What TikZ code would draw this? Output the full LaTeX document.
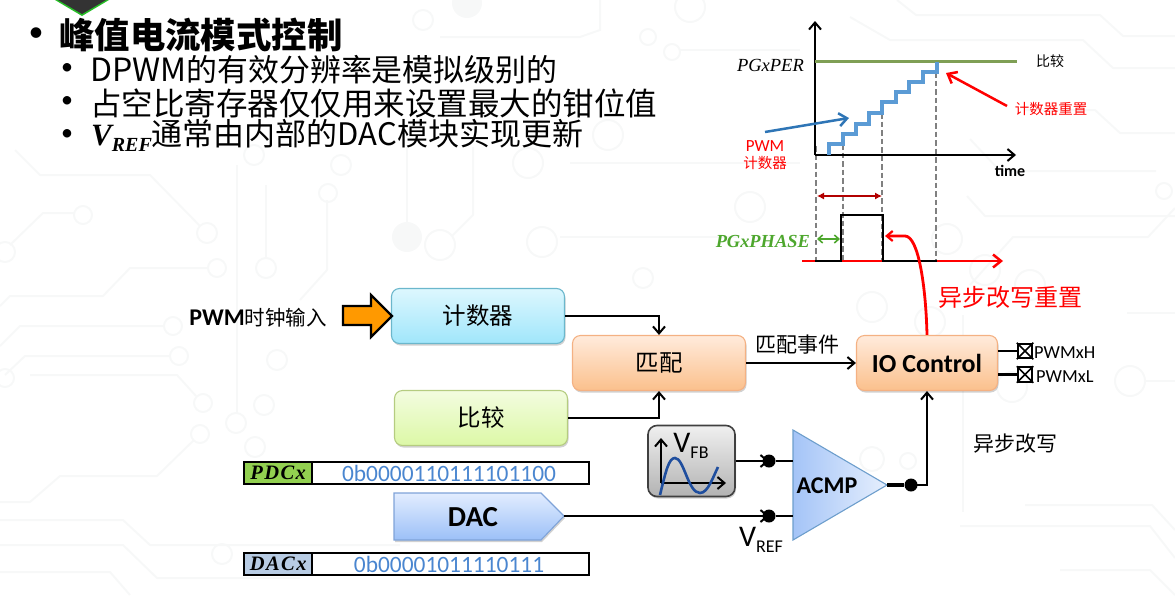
\documentclass[tikz,border=0pt]{standalone}
\usepackage{fontspec}
\setmainfont{Carlito}
\newfontfamily\cjk{Noto Sans CJK SC}
\newfontfamily\regserif[LetterSpace=7]{Liberation Serif}
\newfontfamily\plainserif{Liberation Serif}
\usetikzlibrary{arrows.meta,shadows,shapes.geometric}
\definecolor{bgl}{HTML}{F7F8F8}
\definecolor{steel}{HTML}{5B9BD5}
\definecolor{arrowblue}{HTML}{2E75B6}
\definecolor{numblue}{HTML}{4A86D0}
\definecolor{pgreen}{HTML}{4EA72E}
\definecolor{cmpgreen}{HTML}{7F9F55}
\definecolor{fatorange}{HTML}{FF9900}
\definecolor{cnttop}{HTML}{DDF7FE}\definecolor{cntbot}{HTML}{A0E6FB}\definecolor{cntdraw}{HTML}{6BB7CC}
\definecolor{mattop}{HTML}{FFEBDC}\definecolor{matbot}{HTML}{FBC08C}\definecolor{matdraw}{HTML}{F4B183}
\definecolor{cmptop}{HTML}{F3FCE0}\definecolor{cmpbot}{HTML}{DCF8A6}\definecolor{cmpdraw}{HTML}{B5CC80}
\definecolor{dactop}{HTML}{E2EDFF}\definecolor{dacbot}{HTML}{9CC0F7}\definecolor{dacdraw}{HTML}{7FA3D8}
\definecolor{acleft}{HTML}{A4C4F7}\definecolor{acright}{HTML}{E6EFFD}
\definecolor{pdcfill}{HTML}{92D050}\definecolor{dacfill}{HTML}{B8CCE4}
\definecolor{sinblue}{HTML}{1F4E9E}
\newcommand{\fs}[1]{\fontsize{#1}{#1}\selectfont}
\tikzset{
  softshadow/.style={general shadow={shadow xshift=1pt,shadow yshift=-2pt,fill=black,fill opacity=0.18}},
  blockbox/.style={draw,rounded corners=8pt,line width=1.1pt,minimum height=55pt,softshadow,inner sep=0pt,font=\cjk\fs{23.5}},
  wire/.style={draw=black,line width=2.2pt},
  barb/.style={-{Straight Barb[length=7pt,width=12pt,line width=2pt]}},
  wirearrow/.style={wire,barb},
  jdot/.style={circle,fill=black,minimum size=13pt,inner sep=0pt},
  regbox/.style={draw=black,line width=2.4pt,fill=white,minimum height=22pt,inner sep=0pt},
  reglabel/.style={draw=black,line width=2.4pt,minimum height=22pt,inner sep=0pt,font=\regserif\bfseries\itshape\fs{20.5}},
  regval/.style={text=numblue,font=\fs{23.4}},
  dashv/.style={draw=black!50,line width=2.6pt,dash pattern=on 5.5pt off 3pt},
  pad/.style={draw=black,line width=2pt,minimum size=14.5pt,inner sep=0pt,fill=white},
  plabel/.style={anchor=west,inner sep=0pt,font=\fs{18.4}},
  bgline/.style={draw=bgl,line width=2pt},
}
\begin{document}
\begin{tikzpicture}[x=1pt,y=-1pt]
\useasboundingbox (0,0) rectangle (1175,595);
% faint background traces
\begin{scope}[bgline]
\draw (15,150) -- (40,175) -- (150,175) -- (200,226);
\draw (74,213) -- (43,213) -- (10,245);
\draw (208,268) -- (130,268) -- (103,296) -- (10,296) -- (0,306);
\draw (164,326) -- (20,326) -- (0,346);
\draw (170,356) -- (25,356) -- (5,375);
\draw (30,375) -- (177,375) -- (196,396);
\draw (194,440) -- (157,476) -- (60,476) -- (30,502) -- (0,502);
\draw (0,520) -- (123,520) -- (150,545) -- (400,545);
\draw (0,545) -- (123,545) -- (157,578) -- (300,578);
\draw (0,572) -- (110,572) -- (130,595);
\draw (237,165) -- (237,413);
\draw (266,185) -- (266,258);
\draw (327,200) -- (327,270) -- (300,300);
\draw (897,0) -- (916,15) -- (1100,15) -- (1123,36) -- (1175,36);
\draw (850,17) -- (890,40) -- (1083,40) -- (1113,68) -- (1175,68);
\draw (1025,110) -- (1095,110) -- (1120,133) -- (1175,133);
\draw (970,139) -- (1000,171) -- (1156,171);
\draw (967,196) -- (985,216) -- (1175,216);
\draw (970,285) -- (1013,237) -- (1148,237) -- (1175,208);
\draw (1127,313) -- (1175,313);
\draw (1145,381) -- (1175,381);
\draw (1025,505) -- (1152,505) -- (1175,530);
\draw (960,526) -- (1150,526) -- (1175,558);
\draw (1060,570) -- (1150,570) -- (1175,595);
\draw (963,315) -- (963,512);
\draw (407,147) -- (407,222);
\draw (473,147) -- (473,215) -- (452,236);
\draw (560,237) -- (740,237);
\draw (570,163) -- (800,163);
\draw (600,0) -- (600,30) -- (580,37) -- (440,37);
\draw (680,50) -- (800,50);
\foreach \x/\y/\r in {83/215/9,5/252/10,207/233/10,217/268/9,173/326/9,5/378/9,179/356/9,203/403/9,200/434/9,236/423/10,266/268/10,328/193/9,222/554/10,255/447/10,264/405/10,277/360/10,341/165/10,254/155/10,1164/191/8,1130/381/15,872/307/15,947/239/15,985/270/15,1030/285/15,930/322/15,1012/387/15,872/459/12,908/461/8,423/20/10,690/7/15,648/37/8,672/52/8,608/135/15,528/163/15,542/242/15,440/245/15,750/207/15,643/278/10}
  \draw (\x,\y) circle (\r);
\fill[bgl] (467,3) circle (15);
\fill[bgl] (407,237) circle (15);
\end{scope}
% top chevron
\fill[green!70!black!85] (55,0) -- (82,16) -- (109,0) -- cycle;
\fill[black!80] (58,0) -- (82,14) -- (106,0) -- cycle;
% heading
\node[anchor=center,inner sep=0pt] (bul0) at (36,35) {\fs{30}•};
\node[anchor=west,inner sep=0pt,font=\cjk\bfseries\fs{35.4}] (title) at (59,35) {峰值电流模式控制};
\node[inner sep=0pt] (bul1) at (67,69) {\fs{24}•};
\node[anchor=west,inner sep=0pt,font=\cjk\fs{31}] (l1) at (90,70) {\fs{32}DPWM\fs{30.9}的有效分辨率是模拟级别的};
\node[inner sep=0pt] (bul2) at (67,102) {\fs{24}•};
\node[anchor=west,inner sep=0pt,font=\cjk\fs{31.5}] (l2) at (90,103) {占空比寄存器仅仅用来设置最大的钳位值};
\node[inner sep=0pt] (bul3) at (67,135) {\fs{24}•};
\node[anchor=west,inner sep=0pt,font=\cjk\fs{31}] (l3) at (91,135) {{\plainserif\bfseries\itshape\fs{31}V\raisebox{-6pt}{\fs{20}REF}}通常由内部的DAC模块实现更新};
% timing chart
\node[anchor=east,inner sep=0pt,font=\plainserif\itshape\fs{18.5}] (per) at (804,65) {PGxPER};
\node[anchor=west,inner sep=0pt,font=\cjk\fs{14}] (cmpt) at (1036,61) {比较};
\coordinate (ybot) at (815,155);
\coordinate (ytop) at (815,21);
\coordinate (xend) at (1016,155);
\node[inner sep=0pt,font=\bfseries\fs{16}] (time) at (1010,171) {time};
\draw[dashv] (816,146) -- (816,261);
\draw[dashv] (843,144) -- (843,261);
\draw[dashv] (882,113) -- (882,261);
\draw[dashv] (936,72) -- (936,261);
\draw[wirearrow,line width=2.8pt] (ybot) -- (ytop);
\draw[wirearrow,line width=2.8pt] (ybot) -- (xend);
\draw[draw=cmpgreen,line width=3pt] (815,61.5) -- (1017,61.5);
\draw[draw=steel,line width=3.2pt] (829,155) |- (843,144) |- (856,134) |- (869,124) |- (882,113) |- (896,102) |- (909,92) |- (923,82) |- (937,72) -- (937,62);
\node[text=red,inner sep=0pt,font=\fs{17}] (pwmc) at (765,146) {PWM};
\node[text=red,inner sep=0pt,font=\cjk\fs{14.5}] (pwmc2) at (765,163) {计数器};
\draw[draw=arrowblue,line width=2.5pt,-{Straight Barb[length=8pt,width=13pt,line width=2.5pt]}] (765,132) -- (849,118);
\node[text=red,inner sep=0pt,font=\cjk\fs{14.5}] (rst) at (1051,109) {计数器重置};
\draw[draw=red,line width=2.5pt,-{Straight Barb[length=8pt,width=13pt,line width=2.5pt]}] (1007,106) -- (946,73);
\coordinate (ba) at (817,196); \coordinate (bb) at (882,196);
\draw[draw=red!70!black,line width=1.1pt,{Latex[length=7pt,width=7pt]}-{Latex[length=7pt,width=7pt]}] (ba) -- (bb);
\draw[draw=pgreen,line width=1.8pt,{Straight Barb[length=4.5pt,width=8pt,line width=1.6pt]}-{Straight Barb[length=4.5pt,width=8pt,line width=1.6pt]}] (817,239) -- (840,239);
\node[anchor=east,inner sep=0pt,text=pgreen,font=\plainserif\bfseries\itshape\fs{18.4}] (phase) at (810,241) {PGxPHASE};
\draw[draw=red,line width=2.8pt,-{Straight Barb[length=8pt,width=13pt,line width=2.5pt]}] (802,261) -- (1003,261);
\draw[draw=black,line width=2.8pt] (815,261) -- (841,261) -- (841,215) -- (883,215) -- (883,261) -- (937,261);
\node[text=red,inner sep=0pt,font=\cjk\fs{24}] (asr) at (1010,297) {异步改写重置};
% blocks
\node[blockbox,draw=cntdraw,top color=cnttop,bottom color=cntbot,minimum width=173pt] (cnt) at (478,316) {计数器};
\node[blockbox,draw=matdraw,top color=mattop,bottom color=matbot,minimum width=173pt] (mat) at (659,363) {匹配};
\node[blockbox,draw=cmpdraw,top color=cmptop,bottom color=cmpbot,minimum width=173pt] (cmp) at (481,418) {比较};
\node[blockbox,draw=matdraw,top color=mattop,bottom color=matbot,minimum width=141pt,font=\bfseries\fs{26}] (io) at (927,363) {IO Control};
\node[anchor=east,inner sep=0pt,font=\bfseries\fs{24}] (clk) at (327,318) {PWM{\cjk\mdseries\fs{20.5}时钟输入}};
\draw[fill=fatorange,line width=2.2pt] (343,306) -- (371,306) -- (371,295) -- (392,316) -- (371,337) -- (371,325) -- (343,325) -- cycle;
\node[inner sep=0pt,font=\cjk\fs{21}] (evt) at (797,345) {匹配事件};
\node[inner sep=0pt,font=\cjk\fs{21}] (asw) at (1015,444) {异步改写};
% connectors top
\draw[wirearrow] (cnt.east) -| (mat.north);
\draw[wirearrow] (cmp.east) -| (mat.south);
\draw[wirearrow] (mat.east) -- (io.west |- mat.east);
\node[pad] (ph) at (1025,351) {}; \draw[line width=1.5pt] (ph.north west) -- (ph.south east) (ph.north east) -- (ph.south west);
\node[pad] (pl) at (1025,374.5) {}; \draw[line width=1.5pt] (pl.north west) -- (pl.south east) (pl.north east) -- (pl.south west);
\draw[wire] (ph.west) -- (ph.west -| io.east);
\draw[wire] (pl.west) -- (pl.west -| io.east);
\node[plabel] (phl) at (1034,353) {PWMxH};
\node[plabel] (pll) at (1036,377) {PWMxL};
\draw[draw=red,line width=2.8pt,-{Straight Barb[length=6pt,width=10pt,line width=2.2pt]}] (io.north) .. controls (926,290) and (919,236) .. (905,236) -- (885,236);
% registers
\node[regbox,anchor=west,minimum width=345pt] (pdcb) at (243,473) {};
\node[reglabel,anchor=west,minimum width=68pt,fill=pdcfill] (pdcl) at (243,473) {PDCx};
\node[regval] (pdcv) at (449,473) {0b0000110111101100};
\node[regbox,anchor=west,minimum width=345pt] (dacb) at (243,564) {};
\node[reglabel,anchor=west,minimum width=68pt,fill=dacfill] (dacl) at (243,564) {DACx};
\node[regval] (dacv) at (449,564) {0b00001011110111};
% DAC pentagon
\path[draw=dacdraw,line width=1.1pt,top color=dactop,bottom color=dacbot,softshadow] (394,493) -- (541,493) -- (564,516) -- (541,540) -- (394,540) -- cycle;
\coordinate (dactip) at (564,516);
\node[inner sep=0pt,font=\bfseries\fs{29}] (dac) at (473,517) {DAC};
% VFB icon
\node[draw=black!75,line width=1.6pt,rounded corners=9pt,minimum width=87pt,minimum height=71pt,top color=black!6,bottom color=black!30,softshadow] (vfb) at (691.5,461) {};
\draw[wirearrow] (661,483) -- (661,438);
\draw[wirearrow] (661,483) -- (726,483);
\draw[draw=sinblue,line width=2.6pt] (660,495) .. controls (666,470) and (669,458) .. (675,458) .. controls (684,458) and (688,493) .. (700,493) .. controls (708,493) and (713,477) .. (718,467);
\node[inner sep=0pt,font=\fs{30}] (vfbt) at (691,446) {V\raisebox{-6pt}{\fs{18}FB}};
% ACMP
\path[draw=arrowblue!70,line width=1.1pt,left color=acleft,right color=acright] (793,430) -- (887,485) -- (793,540) -- cycle;
\coordinate (ain) at (793,461);
\coordinate (bin) at (793,516);
\coordinate (aout) at (887,485);
\node[inner sep=0pt,font=\bfseries\fs{24}] (acmp) at (827,486) {ACMP};
\node[jdot] (d1) at (769,461) {};
\node[jdot] (d2) at (769,516) {};
\node[jdot] (d3) at (911,485) {};
\draw[wirearrow] (vfb.east) -- (d1.center);
\draw[wire] (d1) -- (ain);
\draw[wirearrow] (dactip) -- (d2.center);
\draw[wire] (d2) -- (bin);
\draw[wire,line width=3.4pt] (aout) -- (d3);
\draw[wirearrow] (d3.center) -| (io.south);
\node[inner sep=0pt,font=\fs{30}] (vref) at (761,540) {V\raisebox{-6pt}{\fs{18}REF}};
\end{tikzpicture}
\end{document}
